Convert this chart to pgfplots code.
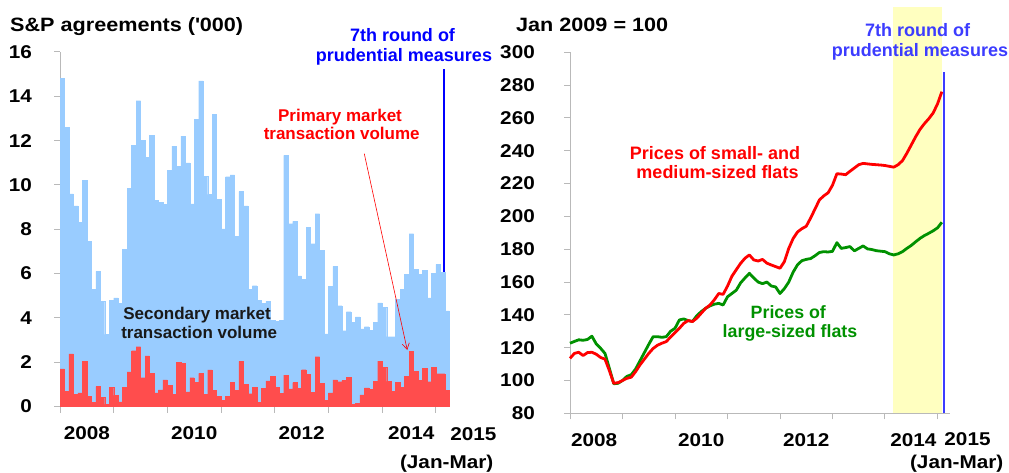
\documentclass[border=0pt]{standalone}
\usepackage{fontspec}
\setmainfont{Liberation Sans}
\newfontfamily\wide{Liberation Sans}[FakeStretch=1.12]
\usepackage{pgfplots}
\pgfplotsset{compat=1.18}
\usepackage{pgfplotstable}
\usetikzlibrary{arrows.meta}

\definecolor{barblue}{RGB}{153,204,255}
\definecolor{barred}{RGB}{255,77,77}
\definecolor{axisgray}{RGB}{185,185,185}
\definecolor{lineblueA}{RGB}{0,0,255}
\definecolor{lineblueB}{RGB}{60,60,255}
\definecolor{shade}{RGB}{255,255,192}
\definecolor{gline}{RGB}{0,145,0}
\definecolor{rline}{RGB}{255,0,0}

\newcommand{\tickf}{\fontsize{18.5}{22}\wide\bfseries}
\newcommand{\titf}{\fontsize{19.3}{22}\wide\bfseries}

\pgfplotstableread{
m sec pri
0.5 14.8 1.7
1.5 12.6 0.68
2.5 9.6 2.38
3.5 9.05 0.55
4.5 8.3 0.62
5.5 10.2 2.04
6.5 7.45 0.45
7.5 5.3 0.2
8.5 6.1 0.9
9.5 4.75 0.4
10.5 3.25 0.1
11.5 4.8 0.88
12.5 4.9 0.5
13.5 4.65 0.21
14.5 7.1 0.86
15.5 9.85 1.56
16.5 11.8 2.52
17.5 13.8 2.7
18.5 12.0 1.3
19.5 11.25 2.28
20.5 12.25 1.5
21.5 9.3 0.62
22.5 9.22 0.75
23.5 9.12 1.2
24.5 10.65 0.96
25.5 11.75 0.55
26.5 10.85 2.0
27.5 12.2 1.96
28.5 11.0 0.66
29.5 9.15 1.3
30.5 12.95 1.1
31.5 14.7 1.5
32.5 10.4 0.55
33.5 9.57 1.65
34.5 13.2 0.72
35.5 9.35 0.45
36.5 8.02 0.27
37.5 10.37 0.46
38.5 10.45 1.1
39.5 7.68 0.72
40.5 9.7 2.04
41.5 9.05 1.0
42.5 5.3 0.58
43.5 5.45 0.87
44.5 4.8 0.2
45.5 4.65 0.82
46.5 4.75 1.16
47.5 3.9 1.37
48.5 3.85 0.88
49.5 3.9 0.6
50.5 11.33 1.42
51.5 8.25 0.8
52.5 8.35 1.08
53.5 5.9 0.82
54.5 5.75 1.66
55.5 8.1 1.44
56.5 7.35 0.65
57.5 8.7 2.25
58.5 7.05 1.05
59.5 3.28 0.28
60.5 5.42 0.62
61.5 6.32 1.2
62.5 4.55 1.12
63.5 3.42 1.18
64.5 4.28 1.33
65.5 3.8 0.1
66.5 4.05 0.15
67.5 3.5 0.53
68.5 3.6 0.84
69.5 3.45 0.78
70.5 3.8 1.13
71.5 4.68 2.05
72.5 4.48 1.76
73.5 3.15 1.13
74.5 3.15 0.68
75.5 4.85 1.1
76.5 5.28 0.88
77.5 5.98 1.36
78.5 7.8 2.5
79.5 6.2 1.6
80.5 5.96 1.18
81.5 6.15 1.72
82.5 4.9 1.12
83.5 6.02 1.76
84.5 6.42 1.48
85.5 6.05 1.48
86.5 4.32 0.72
}\vol

\pgfplotstableread{
m small large
0 113.5 122.7
1 116.5 123.8
2 117.2 124.8
3 115.2 124.5
4 117 125
5 117.2 127
6 116 122.3
7 114 119.6
8 113 116.5
9 106 107.4
10 98.3 98
11 98.7 98.3
12 100 100
13 101.3 102.5
14 102 103.5
15 105.4 107
16 109.5 112
17 113 117
18 116.5 122
19 119.5 126.7
20 121.5 126.7
21 122.7 126.3
22 123.7 126.7
23 126.5 130
24 129.2 131.8
25 131.8 136.9
26 134.8 137.5
27 136.5 136.5
28 135.9 136
29 138 139.5
30 141 142
31 144 144
32 146 145.5
33 149.2 146.5
34 153 147
35 152.5 146
36 157.5 151
37 163.5 153
38 167.5 155
39 171.4 159.5
40 174.5 162.5
41 176.5 165.3
42 173.5 162.5
43 172.8 160
44 173.8 159
45 171.5 160
46 170.4 157.6
47 169.4 157
48 168.4 153
49 172.4 156
50 180.5 160
51 186.5 166
52 190.5 170.5
53 192.5 173
54 194 173.8
55 199 174.3
56 204.5 176
57 210 178
58 212.5 178.5
59 214.4 178.3
60 219 178.7
61 226 184
62 225.8 180.5
63 225.4 181
64 227.5 181.6
65 229.5 179
66 231.5 180.5
67 232.3 182
68 232 180.2
69 231.7 179.8
70 231.5 179.1
71 231.3 178.8
72 231 178.5
73 230.5 177.2
74 230 176.5
75 231.5 177.2
76 234 178.5
77 238.5 180.5
78 243.5 182.3
79 248.5 184.5
80 253 186.6
81 256.5 188.3
82 259.5 189.7
83 263 191.2
84 268.5 193
85 276 196.4
}\price

\pgfplotsset{
  common/.style={
    scale only axis,
    axis lines=left,
    axis line style={-, draw=axisgray, line width=1pt},
    tick style={draw=axisgray, line width=1pt},
    tick align=outside,
    major tick length=6pt,
    ticklabel style={font=\tickf, text=black},
    /pgf/number format/assume math mode=true,
    clip=false,
    xtick={0,12,...,84},
    xticklabels={},
    extra x tick style={major tick length=0pt},
    xticklabel style={anchor=north, inner sep=0pt, yshift=-20pt},
    yticklabel style={anchor=east, inner sep=0pt},
  }
}

\begin{document}
\begin{tikzpicture}[x=1pt,y=1pt]
\useasboundingbox (0pt,0pt) rectangle (1009pt,472pt);

% ---------------- left panel ----------------
\begin{axis}[common,
  at={(60pt,65.5pt)}, anchor=south west,
  width=389.3pt, height=354.5pt,
  xmin=0, xmax=87, ymin=0, ymax=16,
  ytick={0,2,...,16},
  yticklabel style={xshift=-22pt},
  extra x ticks={6,30,54,78.5},
  extra x tick labels={2008,2010,2012,2014},
]
\addplot[draw=lineblueA, line width=2pt] coordinates {(85.85,0) (85.85,15.25)};
\addplot[ybar, bar width=1, bar shift=0, fill=barblue, draw=barblue, line width=0.3pt] table[x=m, y=sec] {\vol};
\addplot[ybar, bar width=1, bar shift=0, fill=barred, draw=barred, line width=0.3pt] table[x=m, y=pri] {\vol};
\draw[rline, line width=0.6pt, -{Straight Barb[length=6pt,width=7pt]}] (axis cs:68.0,11.41) -- (axis cs:77.6,2.55);
\end{axis}

\node[anchor=base west, inner sep=0] at (10pt,440.3pt) {\titf S\&P agreements (\textquotesingle 000)};
\node[anchor=base, inner sep=0, text=lineblueA] at (402.5pt,430.3pt) {\fontsize{18}{20}\bfseries 7th round of};
\node[anchor=base, inner sep=0, text=lineblueA] at (404pt,410.8pt) {\fontsize{18}{20}\bfseries prudential measures};
\node[anchor=base, inner sep=0, text=rline] at (340pt,350.3pt) {\fontsize{17}{20}\bfseries Primary market};
\node[anchor=base, inner sep=0, text=rline] at (341.7pt,332.4pt) {\fontsize{17}{20}\bfseries transaction volume};
\node[anchor=base, inner sep=0, text=black!90] at (197pt,152.7pt) {\fontsize{17}{20}\bfseries Secondary market};
\node[anchor=base, inner sep=0, text=black!90] at (199.2pt,134pt) {\fontsize{17}{20}\bfseries transaction volume};
\node[anchor=base, inner sep=0] at (473.3pt,32pt) {\tickf 2015};
\node[anchor=base, inner sep=0] at (446.7pt,4pt) {\tickf (Jan-Mar)};

% ---------------- right panel ----------------
\begin{axis}[common,
  at={(570pt,58.7pt)}, anchor=south west,
  width=380pt, height=361pt,
  xmin=0, xmax=86.86, ymin=80, ymax=300,
  ytick={80,100,...,300},
  yticklabel style={xshift=-29pt},
  extra x ticks={5.5,30,54,78.5},
  extra x tick labels={2008,2010,2012,2014},
]
\addplot[fill=shade, draw=none] coordinates {(73.9,80) (85,80) (85,327.6) (73.9,327.6)} -- cycle;
\addplot[draw=lineblueB, line width=2pt] coordinates {(85.55,80) (85.55,288.2)};
\addplot[draw=gline, line width=2.8pt, line join=round] table[x=m, y=large] {\price};
\addplot[draw=rline, line width=2.8pt, line join=round] table[x=m, y=small] {\price};
\end{axis}

\node[anchor=base west, inner sep=0] at (516pt,440.3pt) {\titf Jan 2009 = 100};
\node[anchor=base, inner sep=0, text=lineblueB] at (917.5pt,435.5pt) {\fontsize{18}{20}\bfseries 7th round of};
\node[anchor=base, inner sep=0, text=lineblueB] at (920pt,415.3pt) {\fontsize{18}{20}\bfseries prudential measures};
\node[anchor=base, inner sep=0, text=rline] at (715pt,312.7pt) {\fontsize{18}{20}\bfseries Prices of small- and};
\node[anchor=base, inner sep=0, text=rline] at (717.5pt,294pt) {\fontsize{18}{20}\bfseries medium-sized flats};
\node[anchor=base, inner sep=0, text=gline] at (788.3pt,153.7pt) {\fontsize{17.8}{20}\bfseries Prices of};
\node[anchor=base, inner sep=0, text=gline] at (790pt,134.5pt) {\fontsize{17.8}{20}\bfseries large-sized flats};
\node[anchor=base, inner sep=0] at (967.5pt,27pt) {\tickf 2015};
\node[anchor=base, inner sep=0] at (956.7pt,4pt) {\tickf (Jan-Mar)};
\end{tikzpicture}
\end{document}
